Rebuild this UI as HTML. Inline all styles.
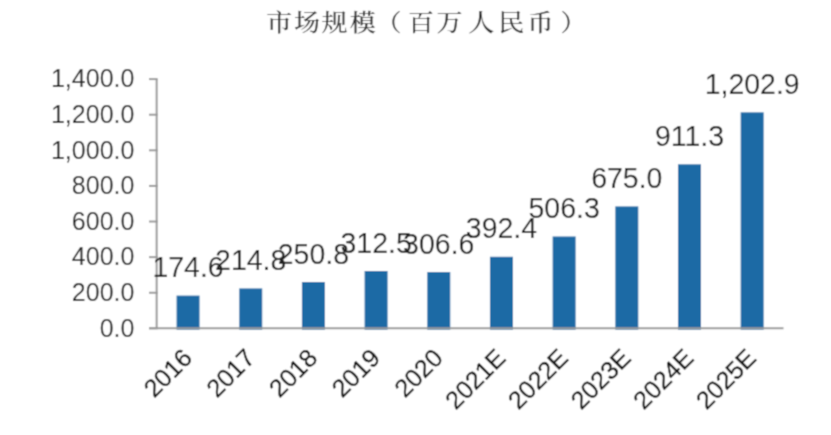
<!DOCTYPE html><html><head><meta charset="utf-8"><style>html,body{margin:0;padding:0;background:#fff;overflow:hidden;}svg{display:block;}</style></head><body>
<svg width="831" height="435" viewBox="0 0 831 435">
<defs><filter id="bl" x="0" y="0" width="831" height="435" filterUnits="userSpaceOnUse"><feConvolveMatrix order="3" kernelMatrix="0.0439 0.1217 0.0439 0.1217 0.3377 0.1217 0.0439 0.1217 0.0439" edgeMode="duplicate"/></filter></defs><g filter="url(#bl)">
<rect width="831" height="435" fill="#fff"/>
<g transform="translate(0 22.0) scale(1.0 0.91) translate(0 -22.0)"><text x="266.20 294.00 321.60 349.70 375.60 407.90 436.40 461.00 468.20 498.20 527.50 560.60" y="32.2" font-family="'Liberation Serif', 'Noto Serif CJK SC', serif" font-size="26" font-weight="500" fill="#262626">市场规模（百万 人民币）</text></g>
<rect x="176.55" y="295.59" width="23.0" height="34.11" fill="#1c6aa5"/>
<rect x="239.23" y="288.42" width="23.0" height="41.28" fill="#1c6aa5"/>
<rect x="301.91" y="282.01" width="23.0" height="47.69" fill="#1c6aa5"/>
<rect x="364.59" y="271.01" width="23.0" height="58.69" fill="#1c6aa5"/>
<rect x="427.27" y="272.06" width="23.0" height="57.64" fill="#1c6aa5"/>
<rect x="489.95" y="256.77" width="23.0" height="72.93" fill="#1c6aa5"/>
<rect x="552.63" y="236.48" width="23.0" height="93.22" fill="#1c6aa5"/>
<rect x="615.31" y="206.41" width="23.0" height="123.28" fill="#1c6aa5"/>
<rect x="677.99" y="164.31" width="23.0" height="165.39" fill="#1c6aa5"/>
<rect x="740.67" y="112.34" width="23.0" height="217.36" fill="#1c6aa5"/>
<line x1="156.65" y1="79.1" x2="156.65" y2="328.35" stroke="#9a9a9a" stroke-width="2"/>
<line x1="149" y1="79.10" x2="157.65" y2="79.10" stroke="#9a9a9a" stroke-width="2"/>
<text x="134.4" y="87.40" text-anchor="end" font-family="'Liberation Sans', Arial, sans-serif" font-size="25" fill="#242424">1,400.0</text>
<line x1="149" y1="114.71" x2="157.65" y2="114.71" stroke="#9a9a9a" stroke-width="2"/>
<text x="134.4" y="123.01" text-anchor="end" font-family="'Liberation Sans', Arial, sans-serif" font-size="25" fill="#242424">1,200.0</text>
<line x1="149" y1="150.31" x2="157.65" y2="150.31" stroke="#9a9a9a" stroke-width="2"/>
<text x="134.4" y="158.61" text-anchor="end" font-family="'Liberation Sans', Arial, sans-serif" font-size="25" fill="#242424">1,000.0</text>
<line x1="149" y1="185.92" x2="157.65" y2="185.92" stroke="#9a9a9a" stroke-width="2"/>
<text x="134.4" y="194.22" text-anchor="end" font-family="'Liberation Sans', Arial, sans-serif" font-size="25" fill="#242424">800.0</text>
<line x1="149" y1="221.53" x2="157.65" y2="221.53" stroke="#9a9a9a" stroke-width="2"/>
<text x="134.4" y="229.83" text-anchor="end" font-family="'Liberation Sans', Arial, sans-serif" font-size="25" fill="#242424">600.0</text>
<line x1="149" y1="257.13" x2="157.65" y2="257.13" stroke="#9a9a9a" stroke-width="2"/>
<text x="134.4" y="265.44" text-anchor="end" font-family="'Liberation Sans', Arial, sans-serif" font-size="25" fill="#242424">400.0</text>
<line x1="149" y1="292.74" x2="157.65" y2="292.74" stroke="#9a9a9a" stroke-width="2"/>
<text x="134.4" y="301.04" text-anchor="end" font-family="'Liberation Sans', Arial, sans-serif" font-size="25" fill="#242424">200.0</text>
<line x1="149" y1="328.35" x2="157.65" y2="328.35" stroke="#9a9a9a" stroke-width="2"/>
<text x="134.4" y="336.65" text-anchor="end" font-family="'Liberation Sans', Arial, sans-serif" font-size="25" fill="#242424">0.0</text>
<line x1="149" y1="328.35" x2="783.5" y2="328.35" stroke="#9a9a9a" stroke-width="2"/>
<text transform="translate(188.05 277.09) scale(1.0 1.06)" text-anchor="middle" font-family="'Liberation Sans', Arial, sans-serif" font-size="28.5" fill="#202020">174.6</text>
<text transform="translate(250.73 269.92) scale(1.0 1.06)" text-anchor="middle" font-family="'Liberation Sans', Arial, sans-serif" font-size="28.5" fill="#202020">214.8</text>
<text transform="translate(313.41 263.51) scale(1.0 1.06)" text-anchor="middle" font-family="'Liberation Sans', Arial, sans-serif" font-size="28.5" fill="#202020">250.8</text>
<text transform="translate(376.09 252.51) scale(1.0 1.06)" text-anchor="middle" font-family="'Liberation Sans', Arial, sans-serif" font-size="28.5" fill="#202020">312.5</text>
<text transform="translate(438.77 253.56) scale(1.0 1.06)" text-anchor="middle" font-family="'Liberation Sans', Arial, sans-serif" font-size="28.5" fill="#202020">306.6</text>
<text transform="translate(501.45 238.27) scale(1.0 1.06)" text-anchor="middle" font-family="'Liberation Sans', Arial, sans-serif" font-size="28.5" fill="#202020">392.4</text>
<text transform="translate(564.13 217.98) scale(1.0 1.06)" text-anchor="middle" font-family="'Liberation Sans', Arial, sans-serif" font-size="28.5" fill="#202020">506.3</text>
<text transform="translate(626.81 187.91) scale(1.0 1.06)" text-anchor="middle" font-family="'Liberation Sans', Arial, sans-serif" font-size="28.5" fill="#202020">675.0</text>
<text transform="translate(689.49 145.81) scale(1.0 1.06)" text-anchor="middle" font-family="'Liberation Sans', Arial, sans-serif" font-size="28.5" fill="#202020">911.3</text>
<text transform="translate(752.17 93.84) scale(1.0 1.06)" text-anchor="middle" font-family="'Liberation Sans', Arial, sans-serif" font-size="28.5" fill="#202020">1,202.9</text>
<text x="193.55" y="359.50" text-anchor="end" transform="rotate(-45 193.55 359.50)" font-family="'Liberation Sans', Arial, sans-serif" font-size="25" fill="#0c0c0c" stroke="#0c0c0c" stroke-width="0.3">2016</text>
<text x="256.23" y="359.50" text-anchor="end" transform="rotate(-45 256.23 359.50)" font-family="'Liberation Sans', Arial, sans-serif" font-size="25" fill="#0c0c0c" stroke="#0c0c0c" stroke-width="0.3">2017</text>
<text x="318.91" y="359.50" text-anchor="end" transform="rotate(-45 318.91 359.50)" font-family="'Liberation Sans', Arial, sans-serif" font-size="25" fill="#0c0c0c" stroke="#0c0c0c" stroke-width="0.3">2018</text>
<text x="381.59" y="359.50" text-anchor="end" transform="rotate(-45 381.59 359.50)" font-family="'Liberation Sans', Arial, sans-serif" font-size="25" fill="#0c0c0c" stroke="#0c0c0c" stroke-width="0.3">2019</text>
<text x="444.27" y="359.50" text-anchor="end" transform="rotate(-45 444.27 359.50)" font-family="'Liberation Sans', Arial, sans-serif" font-size="25" fill="#0c0c0c" stroke="#0c0c0c" stroke-width="0.3">2020</text>
<text x="506.95" y="359.50" text-anchor="end" transform="rotate(-45 506.95 359.50)" font-family="'Liberation Sans', Arial, sans-serif" font-size="25" fill="#0c0c0c" stroke="#0c0c0c" stroke-width="0.3">2021E</text>
<text x="569.63" y="359.50" text-anchor="end" transform="rotate(-45 569.63 359.50)" font-family="'Liberation Sans', Arial, sans-serif" font-size="25" fill="#0c0c0c" stroke="#0c0c0c" stroke-width="0.3">2022E</text>
<text x="632.31" y="359.50" text-anchor="end" transform="rotate(-45 632.31 359.50)" font-family="'Liberation Sans', Arial, sans-serif" font-size="25" fill="#0c0c0c" stroke="#0c0c0c" stroke-width="0.3">2023E</text>
<text x="694.99" y="359.50" text-anchor="end" transform="rotate(-45 694.99 359.50)" font-family="'Liberation Sans', Arial, sans-serif" font-size="25" fill="#0c0c0c" stroke="#0c0c0c" stroke-width="0.3">2024E</text>
<text x="757.67" y="359.50" text-anchor="end" transform="rotate(-45 757.67 359.50)" font-family="'Liberation Sans', Arial, sans-serif" font-size="25" fill="#0c0c0c" stroke="#0c0c0c" stroke-width="0.3">2025E</text>
</g>
</svg></body></html>
